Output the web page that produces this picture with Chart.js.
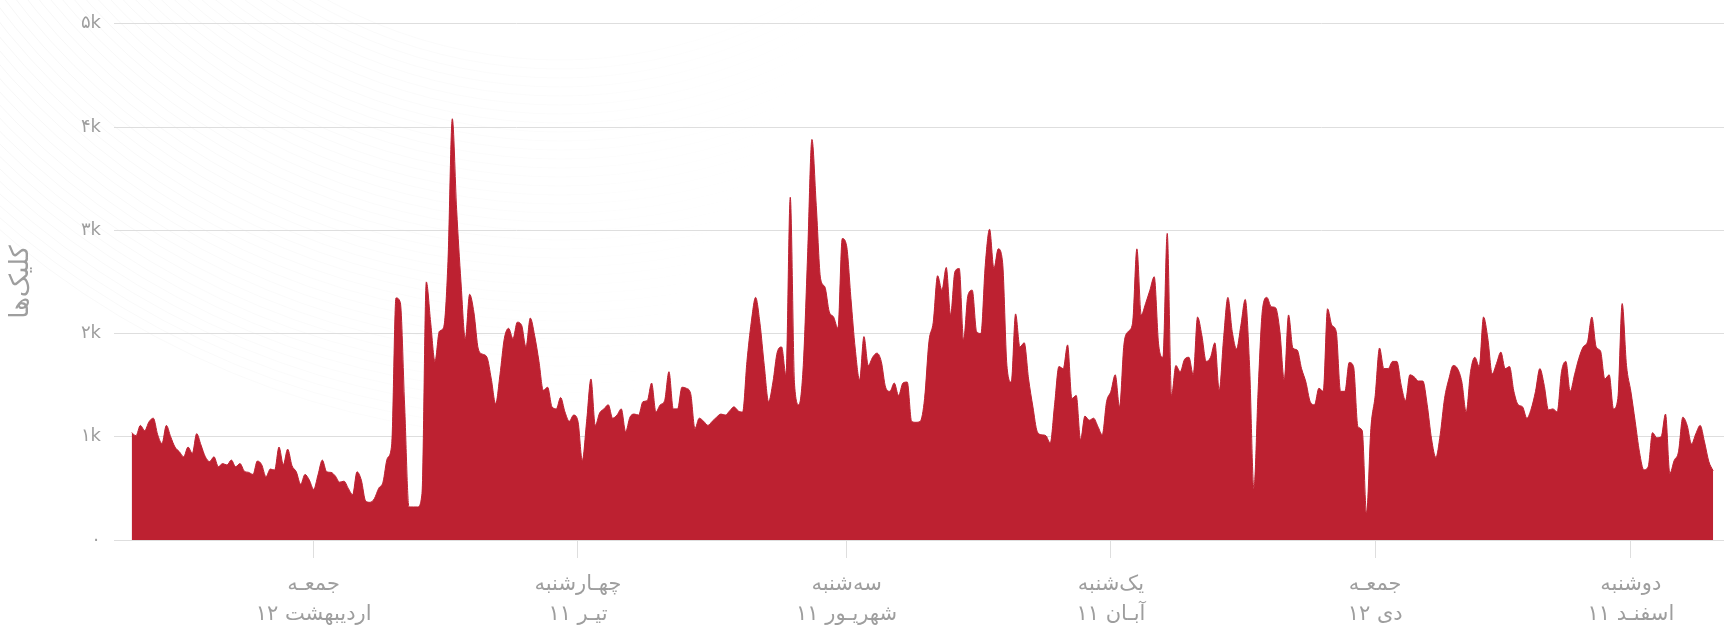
<!DOCTYPE html>
<html lang="fa">
<head>
<meta charset="utf-8">
<title>کلیک‌ها</title>
<script src="https://cdn.jsdelivr.net/npm/chart.js@4.4.1/dist/chart.umd.min.js"></script>
<style>
  html, body { margin: 0; padding: 0; background: #fff; }
  #wrap { width: 1724px; height: 629px; position: relative; }
</style>
</head>
<body>
<div id="wrap"><canvas id="clicks-chart" dir="ltr"></canvas></div>
<script>
// daily clicks, 1 Farvardin .. 30 Esfand 1399
const clicks = [
  1040, 1010, 1110, 1060, 1145, 1180, 1020, 935, 1110, 1000, 900, 855, 806, 900, 840, 1030, 920, 806, 760, 806,
  710, 740, 726, 774, 710, 740, 667, 655, 635, 765, 730, 613, 687, 677, 900, 730, 880, 720, 660, 540,
  635, 580, 490, 630, 774, 660, 655, 620, 560, 570, 500, 440, 660, 580, 377, 365, 400, 500, 560, 790,
  920, 2345, 2300, 1300, 320, 320, 320, 450, 2500, 2110, 1730, 2020, 2060, 2700, 4080, 3200, 2500, 1950, 2380, 2200,
  1850, 1800, 1770, 1560, 1320, 1600, 1950, 2050, 1950, 2110, 2080, 1870, 2150, 1980, 1730, 1450, 1480, 1290, 1270, 1380,
  1240, 1150, 1210, 1150, 770, 1150, 1560, 1110, 1230, 1270, 1310, 1180, 1210, 1270, 1050, 1190, 1220, 1210, 1340, 1350,
  1520, 1240, 1310, 1350, 1630, 1270, 1270, 1480, 1470, 1420, 1080, 1180, 1150, 1110, 1150, 1190, 1220, 1210, 1250, 1290,
  1250, 1240, 1730, 2110, 2350, 2100, 1690, 1340, 1530, 1820, 1870, 1600, 3320, 1500, 1310, 1690, 2760, 3880, 3240, 2530,
  2450, 2210, 2160, 2050, 2920, 2850, 2340, 1850, 1550, 1970, 1690, 1770, 1810, 1730, 1480, 1440, 1520, 1400, 1520, 1530,
  1150, 1140, 1150, 1370, 1920, 2110, 2560, 2420, 2640, 2180, 2600, 2630, 1940, 2370, 2420, 2020, 2000, 2660, 3010, 2630,
  2820, 2690, 1690, 1530, 2190, 1870, 1910, 1560, 1290, 1050, 1020, 1010, 940, 1310, 1680, 1660, 1890, 1370, 1400, 970,
  1200, 1160, 1180, 1100, 1020, 1340, 1440, 1600, 1290, 1890, 2020, 2100, 2820, 2180, 2290, 2420, 2550, 1900, 1770, 2970,
  1400, 1690, 1630, 1750, 1770, 1600, 2160, 1980, 1730, 1770, 1910, 1450, 1950, 2350, 2020, 1850, 2080, 2330, 1690, 500,
  1470, 2240, 2350, 2260, 2250, 2020, 1550, 2180, 1860, 1840, 1660, 1530, 1340, 1310, 1470, 1440, 2240, 2080, 2020, 1440,
  1440, 1720, 1680, 1100, 1060, 260, 1080, 1400, 1860, 1660, 1660, 1730, 1730, 1500, 1350, 1600, 1580, 1540, 1540, 1310,
  980, 800, 1020, 1370, 1560, 1690, 1660, 1530, 1240, 1630, 1770, 1680, 2160, 1950, 1610, 1710, 1820, 1660, 1680, 1440,
  1310, 1290, 1180, 1270, 1440, 1660, 1500, 1260, 1270, 1240, 1630, 1730, 1440, 1600, 1760, 1870, 1920, 2160, 1870, 1830,
  1560, 1600, 1270, 1370, 2290, 1690, 1440, 1150, 850, 680, 710, 1040, 990, 1000, 1220, 645, 770, 855, 1190, 1110,
  930, 1030, 1110, 950, 760, 670
];

// x ticks: day index in the year
const tickDays = [42, 103, 165, 226, 287, 346];
const tickWeekdays = ['جمعـه', 'چهـارشنبه', 'سه‌شنبه', 'یک‌شنبه', 'جمعـه', 'دوشنبه'];
// month first so the number lands on the left like the original
const tickDates = ['اردیبهشت ۱۲', 'تیـر ۱۱', 'شهریـور ۱۱', 'آبـان ۱۱', 'دی ۱۲', 'اسفنـد ۱۱'];

const yTickValues = [0, 1000, 2000, 3000, 4000, 5000];
const yTickLabels = ['۰', '۱k', '۲k', '۳k', '۴k', '۵k'];

const fontFamily = "'DejaVu Sans', sans-serif";
const greyText = '#9e9e9e';
const greyLine = '#dedede';

// faint rings in the top left corner
const bgRings = {
  id: 'bgRings',
  beforeDraw(chart) {
    const ctx = chart.ctx;
    ctx.save();
    const g = ctx.createLinearGradient(0, 0, 700, 360);
    g.addColorStop(0, 'rgba(0,0,0,0.035)');
    g.addColorStop(1, 'rgba(0,0,0,0)');
    ctx.strokeStyle = g;
    ctx.lineWidth = 1;
    for (let r = 480; r <= 860; r += 9) {
      ctx.beginPath();
      ctx.arc(560, -420, r, 0, Math.PI * 2);
      ctx.stroke();
    }
    ctx.restore();
  }
};

const clicksChart = new Chart(document.getElementById('clicks-chart'), {
  type: 'line',
  data: {
    datasets: [{
      label: 'کلیک‌ها',
      data: clicks.map((v, i) => ({x: i, y: v})),
      fill: 'origin',
      backgroundColor: '#bd2131',
      borderColor: '#bd2131',
      borderWidth: 1,
      pointRadius: 0,
      cubicInterpolationMode: 'monotone'
    }]
  },
  options: {
    responsive: true,
    maintainAspectRatio: false,
    animation: false,
    devicePixelRatio: 1,
    layout: {
      padding: {top: 22, left: 0, right: 0, bottom: 0}
    },
    plugins: {
      legend: {display: false},
      tooltip: {enabled: false}
    },
    scales: {
      x: {
        type: 'linear',
        min: -4.08,
        max: 367.5,
        afterBuildTicks: (scale) => {
          scale.ticks = tickDays.map(d => ({value: d}));
        },
        afterFit: (scale) => {
          scale.height = 89;
        },
        ticks: {
          autoSkip: false,
          maxRotation: 0,
          padding: 12,
          color: greyText,
          font: {family: fontFamily, size: 21, lineHeight: 1.4},
          callback: (value) => {
            const k = tickDays.indexOf(value);
            return k < 0 ? '' : [tickWeekdays[k], tickDates[k]];
          }
        },
        grid: {
          drawOnChartArea: false,
          drawTicks: true,
          tickLength: 18,
          color: greyLine
        },
        border: {display: true, color: greyLine}
      },
      y: {
        min: 0,
        max: 5000,
        afterBuildTicks: (scale) => {
          scale.ticks = yTickValues.map(v => ({value: v}));
        },
        afterFit: (scale) => {
          scale.width = 114;
        },
        ticks: {
          padding: 13,
          color: greyText,
          font: {family: fontFamily, size: 18},
          callback: (value, index) => yTickLabels[index]
        },
        grid: {
          drawTicks: false,
          color: greyLine
        },
        border: {display: false},
        title: {
          display: true,
          text: 'کلیک‌ها',
          color: greyText,
          font: {family: fontFamily, size: 26, lineHeight: 1.2},
          padding: {top: 6, bottom: 0}
        }
      }
    }
  },
  plugins: [bgRings]
});
</script>
</body>
</html>
